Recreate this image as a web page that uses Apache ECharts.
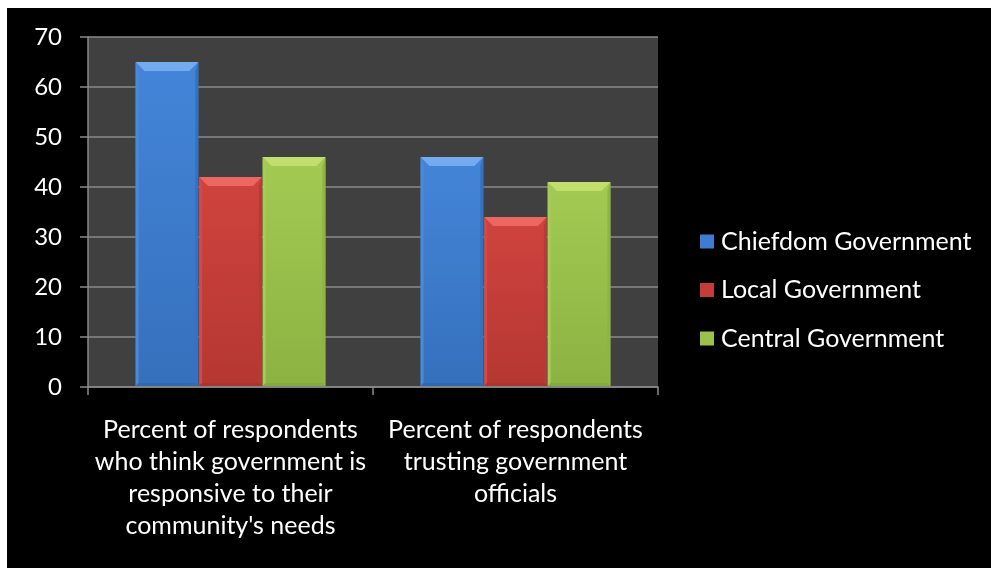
<!DOCTYPE html>
<html>
<head>
<meta charset="utf-8">
<script src="https://cdn.jsdelivr.net/npm/echarts@6/dist/echarts.min.js"></script>
<style>
  html, body { margin: 0; padding: 0; background: #ffffff; }
  #frame { position: absolute; left: 7px; top: 8px; width: 984px; height: 560px; background: #000; }
  #chart { width: 991px; height: 568px; position: absolute; left: 0; top: 0; }
</style>
</head>
<body>
<div id="frame"></div>
<div id="chart"></div>
<script>
// Categories and values
const categories = [
  "Percent of respondents\nwho think government is\nresponsive to their\ncommunity's needs",
  "Percent of respondents\ntrusting government\nofficials"
];
const chiefdom = [65, 46];
const local = [42, 34];
const central = [46, 41];
const seriesNames = ["Chiefdom Government", "Local Government", "Central Government"];
const yTicks = [0, 10, 20, 30, 40, 50, 60, 70];

// Bevelled bar palettes: body gradient (top -> bottom), bevel faces
const palettes = [
  { bodyTop: '#4485D9', bodyBot: '#3570BC', top: '#74ABEE', left: '#4A8ADA', right: '#3472C0', bottom: '#3268B0', legend: '#3D7CD0' },
  { bodyTop: '#D0433E', bodyBot: '#B53732', top: '#EC6761', left: '#D24A45', right: '#B63A35', bottom: '#AA3430', legend: '#C63C37' },
  { bodyTop: '#A3CA52', bodyBot: '#8CB342', top: '#C2DF6E', left: '#A6CC57', right: '#8DB444', bottom: '#85AA3E', legend: '#99C14B' }
];

function bevelItem(seriesIdx) {
  return function (params, api) {
    const cat = api.value(0);
    const val = api.value(1);
    const base = api.coord([cat, 0]);
    const topPt = api.coord([cat, val]);
    const band = api.size([1, 0])[0];
    const w = band * 0.22;
    const gap = band * 0.003;
    const cx = base[0] + (seriesIdx - 1) * (w + gap);
    const x0 = cx - w / 2, x1 = cx + w / 2;
    const y0 = topPt[1], y1 = base[1] - 1;
    const b = Math.min(9, (y1 - y0) / 2);
    const s = 3;
    const p = palettes[seriesIdx];
    return {
      type: 'group',
      children: [
        { type: 'rect', shape: { x: x0, y: y0, width: w, height: y1 - y0 },
          style: { fill: new echarts.graphic.LinearGradient(0, 0, 0, 1, [
            { offset: 0, color: p.bodyTop }, { offset: 1, color: p.bodyBot }]) } },
        { type: 'polygon', shape: { points: [[x0, y0], [x0 + s, y0 + b], [x0 + s, y1 - s], [x0, y1]] }, style: { fill: p.left } },
        { type: 'polygon', shape: { points: [[x1, y0], [x1 - s, y0 + b], [x1 - s, y1 - s], [x1, y1]] }, style: { fill: p.right } },
        { type: 'polygon', shape: { points: [[x0, y1], [x0 + s, y1 - s], [x1 - s, y1 - s], [x1, y1]] }, style: { fill: p.bottom } },
        { type: 'polygon', shape: { points: [[x0, y0], [x1, y0], [x1 - b, y0 + b], [x0 + b, y0 + b]] }, style: { fill: p.top } }
      ]
    };
  };
}

const seriesData = [chiefdom, local, central];
const chart = echarts.init(document.getElementById('chart'), null, { renderer: 'canvas' });
const font = 'Lato, "Open Sans", sans-serif';

chart.setOption({
  backgroundColor: 'transparent',
  animation: false,
  textStyle: { fontFamily: font },
  grid: { left: 88, right: 333, top: 37, bottom: 181, show: true, backgroundColor: '#404040', borderWidth: 0 },
  legend: {
    orient: 'vertical',
    left: 700,
    top: 229,
    padding: 0,
    itemWidth: 14,
    itemHeight: 14,
    itemGap: 23.5,
    icon: 'rect',
    textStyle: { color: '#ffffff', fontSize: 25, fontFamily: font, padding: [0, 0, 0, 2] },
    data: seriesNames.map((n, i) => ({ name: n, itemStyle: { color: palettes[i].legend } }))
  },
  xAxis: {
    type: 'category',
    data: categories,
    axisLine: { show: true, lineStyle: { color: '#8a8a8a', width: 1.5 } },
    axisTick: { show: true, length: 8, lineStyle: { color: '#8a8a8a', width: 1.5 } },
    axisLabel: { color: '#ffffff', fontSize: 25, lineHeight: 32, margin: 27, interval: 0, fontFamily: font }
  },
  yAxis: {
    type: 'value',
    min: 0,
    max: 70,
    interval: 10,
    axisLine: { show: true, lineStyle: { color: '#8a8a8a', width: 1.5 } },
    axisTick: { show: true, length: 8, lineStyle: { color: '#8a8a8a', width: 1.5 } },
    splitLine: { lineStyle: { color: '#8a8a8a', width: 1.5 } },
    axisLabel: {
      color: '#ffffff', fontSize: 24, margin: 26, fontFamily: font,
      formatter: v => (yTicks.indexOf(v) >= 0 ? String(v) : '')
    }
  },
  series: seriesData.map((arr, i) => ({
    name: seriesNames[i],
    type: 'custom',
    renderItem: bevelItem(i),
    itemStyle: { color: palettes[i].legend },
    encode: { x: 0, y: 1 },
    data: arr.map((v, j) => [j, v])
  }))
});
</script>
</body>
</html>
